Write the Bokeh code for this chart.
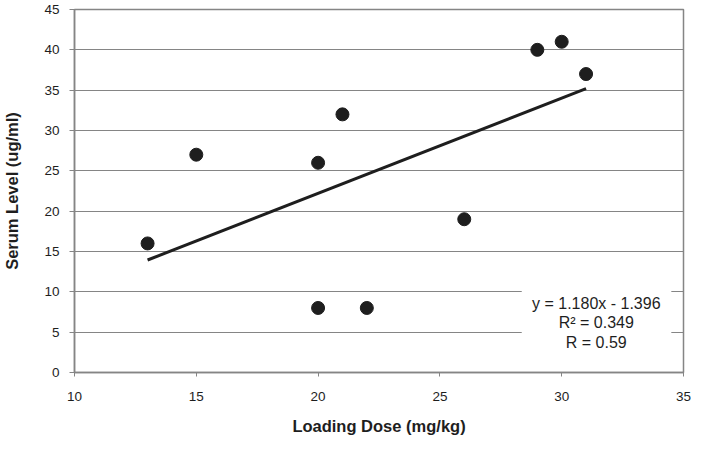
from bokeh.plotting import figure
from bokeh.models import FixedTicker, Label, BoxAnnotation, Range1d
from bokeh.embed import file_html
from bokeh.resources import INLINE

# Data
loading_dose = [13, 15, 20, 20, 21, 22, 26, 29, 30, 31]
serum_level = [16, 27, 26, 8, 32, 8, 19, 40, 41, 37]
trend_slope = 1.180
trend_intercept = -1.396
eq_lines = ["y = 1.180x - 1.396", "R\u00b2 = 0.349", "R = 0.59"]
x_ticks = [10, 15, 20, 25, 30, 35]
y_ticks = [0, 5, 10, 15, 20, 25, 30, 35, 40, 45]

FONT = "Liberation Sans"
GRAY = "#858585"
DARK = "#1e1e1e"

p = figure(width=691, height=440, output_backend="svg", toolbar_location=None,
           x_range=Range1d(10, 35), y_range=Range1d(0, 45),
           min_border_left=74, min_border_right=8, min_border_top=9,
           min_border_bottom=68)

p.background_fill_color = "white"
p.border_fill_color = "white"
p.outline_line_color = GRAY
p.outline_line_width = 1.5

p.xgrid.grid_line_color = None
p.ygrid.grid_line_color = GRAY
p.ygrid.grid_line_width = 1

for ax in (p.xaxis[0], p.yaxis[0]):
    ax.axis_line_color = GRAY
    ax.axis_line_width = 1.5
    ax.major_tick_line_color = GRAY
    ax.major_tick_in = 0
    ax.major_tick_out = 5
    ax.minor_tick_line_color = None
    ax.major_label_text_font = FONT
    ax.major_label_text_font_size = "13.5px"
    ax.major_label_text_color = DARK
    ax.axis_label_text_font = FONT
    ax.axis_label_text_font_size = "16.5px"
    ax.axis_label_text_font_style = "bold"
    ax.axis_label_text_color = DARK

p.xaxis[0].ticker = FixedTicker(ticks=x_ticks)
p.yaxis[0].ticker = FixedTicker(ticks=y_ticks)
p.xaxis[0].major_tick_out = 4
p.xaxis[0].major_label_standoff = 15
p.yaxis[0].major_label_standoff = 10
p.xaxis[0].axis_label = "Loading Dose (mg/kg)"
p.yaxis[0].axis_label = "Serum Level (ug/ml)"
p.xaxis[0].axis_label_standoff = 13
p.yaxis[0].axis_label_standoff = 20

# trend line
x0, x1 = min(loading_dose), max(loading_dose)
p.line([x0, x1], [trend_slope * x0 + trend_intercept, trend_slope * x1 + trend_intercept],
       line_color=DARK, line_width=3)

p.scatter(loading_dose, serum_level, size=13, fill_color=DARK, line_color=DARK)

# equation box
box = BoxAnnotation(left=28.36, right=34.5, bottom=2.3, top=11.2,
                    fill_color="white", fill_alpha=1.0, line_color=None)
p.add_layout(box)
for txt, yy in zip(eq_lines, [8.56, 6.15, 3.74]):
    p.add_layout(Label(x=31.42, y=yy, text=txt, text_align="center",
                       text_baseline="middle", text_font=FONT,
                       text_font_size="16px", text_color=DARK))

open("out.html", "w").write(file_html(p, INLINE))
